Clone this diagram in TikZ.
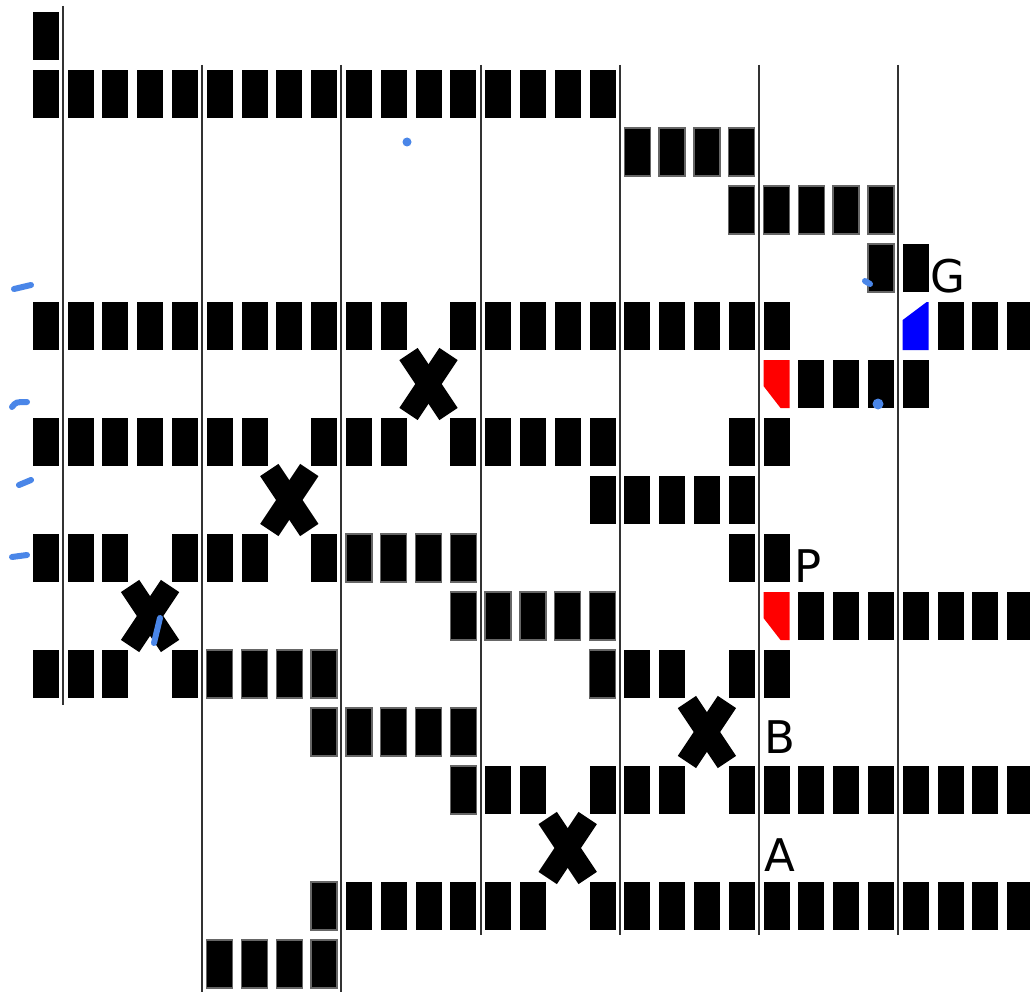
\documentclass[tikz,border=0pt]{standalone}
\usepackage{fontspec}
\setmainfont{DejaVu Sans}
\definecolor{cutred}{HTML}{FF0000}
\definecolor{cutblue}{HTML}{0000FF}
\definecolor{pen}{HTML}{4A86E8}
\tikzset{
  cell/.style={fill=black},
  fuzzy/.style={fill=black, draw=black!60, line width=1.5pt},
  gridline/.style={draw=black!80, line width=2pt},
  cross/.style={draw=black, line width=22pt},
  scribble/.style={draw=pen, line width=6pt, line cap=round},
  lbl/.style={font=\fontsize{45}{50}\selectfont, anchor=base west, inner sep=0pt}
}
\newcommand{\cellat}[3][cell]{\path[#1] ({32.7+34.8*#2},{12+58*#3}) rectangle ++(26,48);}
\begin{document}
\begin{tikzpicture}[x=1pt,y=-1pt]
    \useasboundingbox (0,0) rectangle (1030,992);
    \fill[white] (0,0) rectangle (1030,992);
    \draw[gridline] (63,6) -- (63,705);
    \foreach \j/\e in {1/992, 2/992, 3/935, 4/935, 5/935, 6/935}
        \draw[gridline] ({63+139.2*\j},65) -- ({63+139.2*\j},\e);
    \foreach \r/\cs in {0/{0}, 1/{0,...,16}, 4/{25}, 5/{0,...,10,12,13,14,15,16,17,18,19,20,21,26,27,28},
        6/{22,23,24,25}, 7/{0,...,6,8,9,10,12,13,14,15,16,20,21}, 8/{16,...,20},
        9/{0,1,2,4,5,6,8,20,21}, 10/{22,...,28}, 11/{0,1,2,4,17,18,20,21},
        13/{13,14,16,17,18,20,21,22,23,24,25,26,27,28}, 15/{9,...,14,16,17,18,19,20,21,22,23,24,25,26,27,28}}
        {\foreach \c in \cs {\cellat{\c}{\r}}}
    \foreach \r/\cs in {2/{17,...,20}, 3/{20,...,24}, 4/{24}, 9/{9,...,12}, 10/{12,...,16},
        11/{5,6,7,8,16}, 12/{8,...,12}, 13/{12}, 15/{8}, 16/{5,...,8}}
        {\foreach \c in \cs {\cellat[fuzzy]{\c}{\r}}}
    \foreach \r in {6,10}
        \fill[cutred] (763.5,{12+58*\r}) -- (789.5,{12+58*\r}) -- (789.5,{60+58*\r})
            -- (780.5,{60+58*\r}) -- (763.5,{38+58*\r}) -- cycle;
    \fill[cutblue] (902.7,320) -- (926.7,302) -- (928.7,302) -- (928.7,350) -- (902.7,350) -- cycle;
    \foreach \c/\r in {11/6, 7/8, 3/10, 19/12, 15/14} {
        \draw[cross] ({45.7+34.8*\c-20},{36+58*\r-30}) -- ({45.7+34.8*\c+20},{36+58*\r+30});
        \draw[cross] ({45.7+34.8*\c-20},{36+58*\r+30}) -- ({45.7+34.8*\c+20},{36+58*\r-30});
    }
    \node[lbl] (gLab) at (930,292) {G};
    \node[lbl] (pLab) at (794,582) {P};
    \node[lbl] (bLab) at (764,753) {B};
    \node[lbl] (aLab) at (764,871) {A};
    \draw[scribble] (14,289) -- (31,285);
    \draw[scribble] (12,407) .. controls (16,402) .. (27,402);
    \draw[scribble] (19,485) -- (31,480);
    \draw[scribble] (12,557) -- (27,555);
    \draw[scribble] (160,618) -- (154,643);
    \draw[scribble] (865,281) -- (870,284);
    \fill[pen] (407,142) circle (4.5pt);
    \fill[pen] (878,404) circle (5.5pt);
\end{tikzpicture}
\end{document}
